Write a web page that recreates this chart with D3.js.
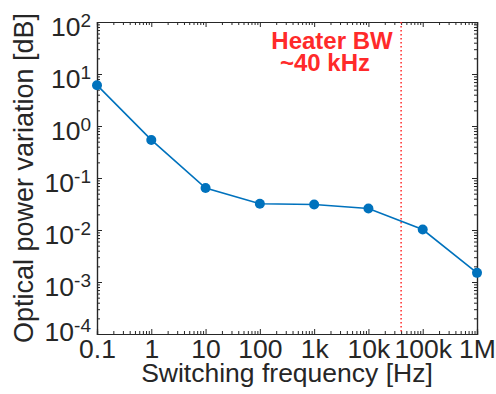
<!DOCTYPE html>
<html>
<head>
<meta charset="utf-8">
<script src="https://cdn.jsdelivr.net/npm/d3@7"></script>
<style>
  body { margin: 0; background: #fff; }
  text { font-family: "Liberation Sans", Arial, sans-serif; fill: #262626; }
</style>
</head>
<body>
<div id="chart"></div>
<script>
var chart_width  = 496;
var chart_height = 394;

// data
var freqs  = [0.1, 1, 10, 100, 1e3, 1e4, 1e5, 1e6];
var values = [6.1, 0.54, 0.064, 0.032, 0.031, 0.026, 0.0102, 0.0015];

var x_ticks       = [0.1, 1, 10, 100, 1e3, 1e4, 1e5, 1e6];
var x_tick_labels = ['0.1', '1', '10', '100', '1k', '10k', '100k', '1M'];
var y_exponents   = [-4, -3, -2, -1, 0, 1, 2];

var heater_bw = 4e4;

var plot_left = 97, plot_right = 477, plot_top = 22, plot_bottom = 334;

var svg = d3.select('#chart')
            .append('svg')
            .attr('width', chart_width)
            .attr('height', chart_height);

var x_scale = d3.scaleLog()
                .domain([0.1, 1e6])
                .range([plot_left, plot_right]);

var y_scale = d3.scaleLog()
                .domain([1e-4, 1e2])
                .range([plot_bottom, plot_top]);

var y_ticks = y_exponents.map((e) => Math.pow(10, e));

// minor ticks 2..9 in every decade
var x_minor = [];
x_ticks.slice(0, -1).forEach((d) => {
    for (var k = 2; k < 10; k++) x_minor.push(d * k);
});
var y_minor = [];
y_ticks.slice(0, -1).forEach((d) => {
    for (var k = 2; k < 10; k++) y_minor.push(d * k);
});

function styleAxis(g) {
    g.selectAll('.domain').attr('stroke', '#262626').attr('stroke-width', 1.2);
    g.selectAll('.tick line').attr('stroke', '#262626').attr('stroke-width', 1);
}

// bottom axis
var gx = svg.append('g')
    .attr('transform', 'translate(0,' + plot_bottom + ')')
    .call(d3.axisBottom(x_scale).tickValues(x_ticks).tickSize(-5).tickPadding(10)
        .tickFormat((d, i) => x_tick_labels[i]));
gx.selectAll('text').attr('font-size', 26.5).attr('dy', 0).attr('y', 24);
styleAxis(gx);
var gxm = svg.append('g')
    .attr('transform', 'translate(0,' + plot_bottom + ')')
    .call(d3.axisBottom(x_scale).tickValues(x_minor).tickSize(-3).tickFormat(''));
styleAxis(gxm);

// top axis
var gt = svg.append('g')
    .attr('transform', 'translate(0,' + plot_top + ')')
    .call(d3.axisTop(x_scale).tickValues(x_ticks).tickSize(-5).tickFormat(''));
styleAxis(gt);
var gtm = svg.append('g')
    .attr('transform', 'translate(0,' + plot_top + ')')
    .call(d3.axisTop(x_scale).tickValues(x_minor).tickSize(-3).tickFormat(''));
styleAxis(gtm);

// left axis, labels as 10 with superscript exponent
var gy = svg.append('g')
    .attr('transform', 'translate(' + plot_left + ',0)')
    .call(d3.axisLeft(y_scale).tickValues(y_ticks).tickSize(-5).tickFormat(''));
styleAxis(gy);
gy.selectAll('.tick').each(function(d, i) {
    var t = d3.select(this).append('text')
        .attr('x', -6)
        .attr('y', i === 0 ? 6 : 13)   // lowest label sits a bit higher in the original
        .attr('text-anchor', 'end')
        .attr('font-size', 26.5)
        .attr('fill', '#262626');
    t.append('tspan').text('10');
    t.append('tspan').attr('font-size', 19).attr('dy', -9).text(y_exponents[i]);
});
var gym = svg.append('g')
    .attr('transform', 'translate(' + plot_left + ',0)')
    .call(d3.axisLeft(y_scale).tickValues(y_minor).tickSize(-3).tickFormat(''));
styleAxis(gym);

// right axis
var gr = svg.append('g')
    .attr('transform', 'translate(' + plot_right + ',0)')
    .call(d3.axisRight(y_scale).tickValues(y_ticks).tickSize(-5).tickFormat(''));
styleAxis(gr);
var grm = svg.append('g')
    .attr('transform', 'translate(' + plot_right + ',0)')
    .call(d3.axisRight(y_scale).tickValues(y_minor).tickSize(-3).tickFormat(''));
styleAxis(grm);

// heater bandwidth marker
svg.append('line')
    .attr('x1', x_scale(heater_bw))
    .attr('x2', x_scale(heater_bw))
    .attr('y1', plot_top)
    .attr('y2', plot_bottom)
    .attr('stroke', '#ff2a2a')
    .attr('stroke-width', 1.5)
    .attr('stroke-dasharray', '1.5,2.5');

svg.append('text')
    .attr('x', 332)
    .attr('y', 49)
    .attr('text-anchor', 'middle')
    .attr('font-size', 24)
    .attr('font-weight', 'bold')
    .style('fill', '#ff2a2a')
    .text('Heater BW');
svg.append('text')
    .attr('x', 325)
    .attr('y', 71)
    .attr('text-anchor', 'middle')
    .attr('font-size', 24)
    .attr('font-weight', 'bold')
    .style('fill', '#ff2a2a')
    .text('~40 kHz');

// data line + markers
var line = d3.line()
    .x((d, i) => x_scale(freqs[i]))
    .y((d) => y_scale(d));

svg.append('path')
    .datum(values)
    .attr('d', line)
    .attr('fill', 'none')
    .attr('stroke', '#0072BD')
    .attr('stroke-width', 1.6);

svg.selectAll('circle')
    .data(values)
    .enter()
    .append('circle')
    .attr('cx', (d, i) => x_scale(freqs[i]))
    .attr('cy', (d) => y_scale(d))
    .attr('r', 5)
    .attr('fill', '#0072BD');

// axis titles
svg.append('text')
    .attr('x', (plot_left + plot_right) / 2)
    .attr('y', 382)
    .attr('text-anchor', 'middle')
    .attr('font-size', 26.5)
    .text('Switching frequency [Hz]');

svg.append('text')
    .attr('transform', 'translate(33,' + (plot_top + plot_bottom) / 2 + ') rotate(-90)')
    .attr('text-anchor', 'middle')
    .attr('font-size', 27)
    .text('Optical power variation [dB]');
</script>
</body>
</html>
